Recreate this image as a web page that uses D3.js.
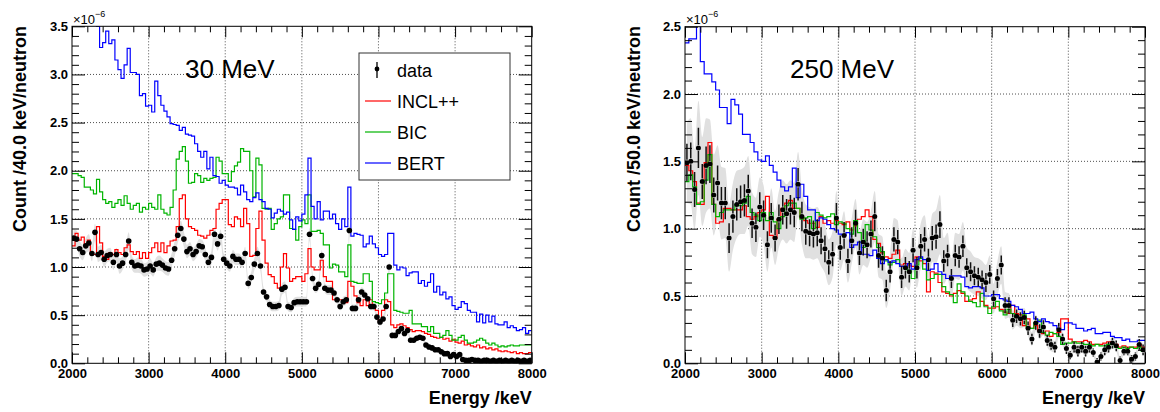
<!DOCTYPE html>
<html>
<head>
<meta charset="utf-8">
<script src="https://cdn.jsdelivr.net/npm/d3@7"></script>
<style>
body { margin: 0; background: #fff; }
svg { display: block; }
text { font-family: "Liberation Sans", Arial, Helvetica, sans-serif; }
</style>
</head>
<body>
<svg id="chart" width="1160" height="412"></svg>
<script>
// ---- 30 MeV, 40 keV bins from 2000 keV (values x1e-6) ----
var dataL = [
  1.3,1.29,1.19,1.15,1.22,1.25,1.14,1.36,1.13,1.15,
  1.08,1.12,1.13,1.05,1.13,1.01,1.04,1.13,1.27,1.05,
  1.01,1.02,1.01,0.97,0.98,1.01,0.97,1.03,1.04,1.02,
  0.99,0.98,1.07,1.19,1.33,1.4,1.29,1.16,1.19,1.13,
  1.16,1.22,1.21,1.13,1.05,1.1,1.34,1.24,1.32,1.08,
  1.04,1.01,1.11,1.08,1.08,1.05,1.14,0.83,0.89,1.03,
  1.14,1.01,0.74,0.69,0.61,0.59,0.59,0.6,0.77,0.79,
  0.59,0.58,0.63,0.64,0.64,0.64,0.64,1.34,0.88,0.78,
  0.82,1.12,0.78,0.76,0.76,0.73,0.66,0.59,0.64,0.66,
  1.38,0.57,0.57,0.66,0.74,0.71,0.67,0.59,0.59,0.48,
  0.43,0.46,0.59,1.0,0.29,0.29,0.33,0.36,0.31,0.34,
  0.24,0.24,0.26,0.27,0.26,0.19,0.17,0.16,0.14,0.14,
  0.12,0.1,0.1,0.07,0.09,0.07,0.09,0.04,0.03,0.03,
  0.04,0.03,0.03,0.02,0.03,0.03,0.02,0.03,0.02,0.03,
  0.02,0.03,0.02,0.03,0.02,0.03,0.02,0.03,0.02,0.03
];
var bandL = [
  .09,.09,.08,.08,.08,.09,.08,.09,.08,.08,
  .08,.07,.07,.08,.07,.08,.07,.08,.09,.07,
  .07,.08,.08,.07,.07,.08,.07,.07,.08,.07,
  .07,.07,.07,.08,.08,.08,.08,.07,.07,.07,
  .07,.07,.07,.07,.06,.07,.08,.07,.07,.06,
  .06,.06,.07,.06,.06,.06,.07,.06,.06,.06,
  .07,.06,.05,.05,.05,.05,.05,.05,.06,.06,
  .05,.05,.05,.05,.05,.05,.05,.07,.05,.05,
  .05,.06,.05,.05,.05,.05,.05,.04,.05,.05,
  .06,.04,.04,.05,.05,.05,.04,.04,.04,.04,
  .04,.04,.04,.05,.03,.03,.03,.03,.03,.03,
  .03,.03,.03,.03,.03,.03,.03,.02,.02,.02,
  .02,.02,.02,.02,.02,.02,.02,.02,.02,.02,
  .02,.02,.02,.02,.02,.02,.02,.02,.02,.02,
  .02,.02,.02,.02,.02,.02,.02,.02,.02,.02
];
var inclL = [
  1.22,1.35,1.28,1.31,1.21,1.28,1.13,1.13,1.42,1.25,
  1.11,1.08,1.15,1.13,1.18,1.15,1.13,1.2,1.23,1.16,
  1.13,1.16,1.09,1.15,1.09,1.15,1.2,1.25,1.16,1.25,
  1.15,1.22,1.27,1.28,1.42,1.71,1.75,1.5,1.42,1.4,
  1.38,1.33,1.32,1.3,1.33,1.38,1.4,1.6,1.66,1.7,
  1.7,1.44,1.42,1.52,1.5,1.42,1.61,1.45,1.11,1.12,
  1.4,1.58,1.28,1.04,0.92,0.9,0.83,0.78,1.0,1.14,
  0.99,0.85,0.88,0.9,0.9,0.85,0.93,1.19,1.0,0.97,
  0.97,1.07,0.9,0.85,0.85,0.66,0.66,0.66,0.63,0.63,
  0.85,0.8,0.7,0.63,0.6,0.66,0.6,0.66,0.6,0.55,
  0.43,0.55,0.66,0.64,0.4,0.37,0.4,0.41,0.39,0.37,
  0.35,0.33,0.34,0.34,0.33,0.31,0.3,0.28,0.27,0.26,
  0.27,0.25,0.26,0.23,0.25,0.22,0.21,0.23,0.19,0.2,
  0.18,0.17,0.19,0.16,0.17,0.15,0.16,0.14,0.15,0.13,
  0.12,0.13,0.12,0.11,0.12,0.1,0.11,0.1,0.1,0.11
];
var bicL = [
  1.97,1.97,1.95,1.93,1.83,1.83,1.8,1.76,1.91,1.78,
  1.7,1.66,1.68,1.62,1.66,1.7,1.64,1.74,1.66,1.6,
  1.64,1.66,1.57,1.62,1.6,1.66,1.62,1.6,1.75,1.6,
  1.56,1.54,1.62,1.8,2.12,2.2,2.25,2.1,1.87,1.88,
  1.97,1.95,1.88,1.92,1.9,1.92,1.93,2.14,2.1,1.97,
  1.97,1.89,1.99,2.05,2.09,2.23,2.2,2.2,2.0,1.73,
  2.13,2.06,1.61,1.6,1.61,1.39,1.45,1.5,1.52,1.75,
  1.75,1.4,1.39,1.28,1.42,1.49,1.45,1.75,1.37,1.37,
  1.38,1.35,1.23,1.23,0.99,1.03,1.02,0.95,0.95,0.9,
  1.23,0.85,0.84,0.83,0.83,0.93,0.93,0.85,0.64,0.63,
  0.62,0.66,0.73,0.93,0.93,0.55,0.54,0.53,0.52,0.52,
  0.55,0.41,0.41,0.41,0.38,0.38,0.33,0.38,0.31,0.31,
  0.27,0.29,0.34,0.29,0.24,0.24,0.27,0.29,0.24,0.21,
  0.21,0.22,0.24,0.26,0.24,0.21,0.19,0.21,0.19,0.17,
  0.18,0.17,0.18,0.19,0.18,0.18,0.19,0.19,0.19,0.19
];
var bertL = [
  4.2,4.1,4.0,3.95,3.9,3.8,3.75,3.6,3.5,3.28,
  3.33,3.45,3.32,3.36,3.15,3.05,2.96,3.1,3.27,3.02,
  3.02,3.0,2.78,2.8,2.67,2.68,2.61,2.93,2.78,2.68,
  2.62,2.56,2.49,2.48,2.47,2.42,2.45,2.38,2.37,2.36,
  2.28,2.2,2.14,2.2,2.02,2.14,1.95,1.94,1.87,1.9,
  1.85,1.83,1.83,1.82,1.75,1.85,1.78,1.7,1.68,1.72,
  1.77,1.7,1.68,1.61,1.6,1.51,1.56,1.6,1.58,1.55,
  1.57,1.49,1.39,1.52,1.48,1.55,1.75,2.13,1.63,1.5,
  1.68,1.49,1.58,1.58,1.5,1.55,1.45,1.39,1.5,1.42,
  1.83,1.32,1.35,1.34,1.33,1.21,1.24,1.32,1.24,1.2,
  1.13,1.11,1.13,1.35,1.35,1.02,0.97,1.0,0.99,0.91,
  0.94,0.95,0.95,0.83,0.86,0.8,0.84,0.93,0.74,0.8,
  0.71,0.74,0.67,0.69,0.6,0.56,0.58,0.64,0.62,0.55,
  0.53,0.53,0.43,0.51,0.42,0.5,0.43,0.49,0.41,0.4,
  0.4,0.43,0.37,0.39,0.37,0.34,0.35,0.37,0.31,0.34
];

// ---- 250 MeV, 50 keV bins from 2000 keV (values x1e-6) ----
var dataR = [
  1.49,1.5,1.29,1.6,1.35,1.47,1.48,1.25,1.34,1.19,
  1.19,0.93,1.09,1.18,1.2,1.21,1.28,1.04,1.01,1.16,
  1.1,0.88,1.08,0.93,1.07,1.14,1.11,1.14,1.12,1.33,
  1.09,0.98,0.97,0.96,0.97,0.91,0.85,0.75,0.81,1.08,
  0.86,0.95,0.76,0.91,1.04,0.82,0.9,0.88,0.96,1.09,
  0.8,0.78,0.54,0.68,0.92,0.9,0.64,0.71,0.68,0.84,
  0.71,0.87,0.92,0.77,0.93,0.94,1.03,0.76,0.8,0.63,
  0.8,0.79,0.87,0.71,0.68,0.65,0.64,0.62,0.6,0.66,
  0.48,0.63,0.73,0.43,0.43,0.32,0.35,0.33,0.34,0.26,
  0.18,0.3,0.24,0.27,0.17,0.14,0.12,0.25,0.18,0.11,
  0.06,0.12,0.09,0.12,0.09,0.12,0.08,0.01,0.05,0.1,
  0.12,0.15,0.13,0.02,0.09,0.09,0.03,0.05,0.14,0.1
];
var statR = [
  .14,.14,.13,.15,.13,.14,.14,.13,.13,.12,
  .12,.11,.12,.12,.12,.12,.12,.11,.11,.11,
  .11,.1,.11,.1,.11,.11,.11,.11,.11,.12,
  .11,.1,.1,.1,.1,.1,.1,.09,.09,.11,
  .09,.1,.09,.1,.1,.09,.1,.1,.1,.11,
  .09,.09,.08,.08,.09,.09,.08,.08,.08,.09,
  .08,.09,.09,.08,.09,.09,.1,.08,.08,.07,
  .08,.08,.08,.07,.07,.07,.07,.07,.07,.07,
  .06,.07,.07,.06,.06,.05,.05,.05,.05,.05,
  .04,.05,.05,.05,.04,.04,.04,.05,.04,.04,
  .03,.04,.04,.04,.04,.04,.03,.03,.03,.04,
  .04,.04,.04,.03,.03,.03,.03,.03,.04,.04
];
var bandR = [
  .3,.32,.3,.35,.33,.35,.33,.3,.28,.27,
  .26,.25,.25,.25,.24,.25,.26,.23,.22,.22,
  .22,.2,.22,.2,.21,.22,.22,.22,.22,.24,
  .21,.2,.19,.19,.19,.19,.18,.17,.17,.2,
  .17,.18,.16,.17,.18,.16,.17,.17,.17,.19,
  .16,.16,.13,.14,.16,.16,.14,.14,.14,.16,
  .15,.17,.18,.16,.18,.2,.22,.17,.17,.15,
  .17,.17,.18,.15,.15,.14,.14,.14,.13,.14,
  .11,.13,.14,.1,.09,.07,.07,.07,.07,.06,
  .05,.06,.06,.06,.05,.05,.04,.06,.05,.04,
  .03,.04,.04,.04,.04,.04,.03,.02,.03,.04,
  .04,.04,.04,.03,.03,.03,.03,.03,.04,.04
];
var inclR = [
  1.47,1.43,1.35,1.19,1.18,1.49,1.64,1.18,1.04,1.05,
  1.15,1.15,1.14,1.14,1.14,1.17,1.09,1.07,1.09,1.12,
  1.14,1.24,0.95,0.93,1.07,1.15,1.19,1.21,1.15,1.15,
  1.08,1.06,1.04,1.04,1.01,1.09,1.04,1.06,1.04,1.06,
  1.04,1.03,1.05,0.99,1.02,1.07,1.09,1.14,1.09,0.92,
  0.89,0.82,0.79,0.78,0.81,0.84,0.73,0.74,0.73,0.72,
  0.79,0.76,0.74,0.53,0.68,0.67,0.6,0.53,0.52,0.5,
  0.52,0.54,0.52,0.46,0.47,0.48,0.53,0.46,0.43,0.41,
  0.41,0.42,0.4,0.38,0.37,0.43,0.37,0.36,0.28,0.33,
  0.26,0.28,0.24,0.22,0.24,0.2,0.22,0.23,0.33,0.33,
  0.18,0.16,0.16,0.16,0.17,0.16,0.14,0.14,0.14,0.15,
  0.16,0.14,0.14,0.12,0.13,0.12,0.12,0.12,0.14,0.12
];
var bicR = [
  1.35,1.4,1.31,1.18,1.2,1.36,1.55,1.18,1.09,1.12,
  1.14,1.14,1.14,1.18,1.17,1.19,1.24,1.12,1.1,1.06,
  1.12,1.06,1.12,1.05,1.0,1.09,1.17,1.19,1.19,1.15,
  1.07,1.08,1.09,1.0,1.12,1.1,1.08,1.09,1.11,1.03,
  1.05,1.04,1.0,0.96,1.06,0.97,0.86,1.03,0.99,0.94,
  0.86,0.83,0.76,0.73,0.75,0.77,0.72,0.71,0.69,0.63,
  0.73,0.78,0.7,0.62,0.63,0.66,0.66,0.57,0.53,0.51,
  0.45,0.59,0.53,0.5,0.46,0.45,0.42,0.52,0.42,0.37,
  0.42,0.46,0.39,0.36,0.4,0.37,0.34,0.33,0.36,0.27,
  0.26,0.3,0.32,0.23,0.21,0.23,0.22,0.2,0.14,0.15,
  0.15,0.16,0.15,0.15,0.14,0.14,0.13,0.14,0.13,0.13,
  0.14,0.14,0.12,0.11,0.12,0.11,0.12,0.11,0.12,0.09
];
var bertR = [
  2.38,2.41,2.41,2.55,2.24,2.15,2.15,2.09,2.03,1.9,
  1.9,1.78,1.96,1.92,1.85,1.7,1.7,1.64,1.57,1.51,
  1.5,1.54,1.47,1.42,1.36,1.31,1.28,1.31,1.45,1.23,
  1.33,1.24,1.14,1.14,1.06,1.08,1.07,1.03,1.0,0.99,
  0.96,0.95,0.97,0.86,0.88,0.9,0.81,0.81,0.8,0.84,
  0.78,0.74,0.77,0.75,0.76,0.74,0.72,0.72,0.74,0.7,
  0.77,0.79,0.77,0.69,0.7,0.74,0.68,0.66,0.63,0.65,
  0.65,0.65,0.64,0.57,0.56,0.57,0.57,0.56,0.5,0.5,
  0.51,0.51,0.48,0.47,0.46,0.43,0.42,0.4,0.37,0.37,
  0.38,0.33,0.31,0.33,0.31,0.3,0.28,0.26,0.25,0.3,
  0.3,0.29,0.26,0.26,0.24,0.25,0.26,0.22,0.22,0.23,
  0.23,0.2,0.19,0.19,0.17,0.18,0.16,0.16,0.17,0.17
];

var models = ["INCL++", "BIC", "BERT"];
var colors = ["#ff0000", "#00b400", "#0000ff"];
var xTicks = [2000, 3000, 4000, 5000, 6000, 7000, 8000];

var svg = d3.select("#chart");
var font = '"Liberation Sans", Arial, Helvetica, sans-serif';

drawPanel({id: "l", x0: 72, x1: 531.7, y0: 26.3, y1: 363.3, ymax: 3.5, bw: 40, r: 2.8,
    data: dataL, band: bandL, stat: null, hists: [inclL, bicL, bertL],
    label: "30 MeV", labelX: 185, ytitle: "Count /40.0 keV/neutron", ytitleX: 26, legend: true});
drawPanel({id: "r", x0: 685, x1: 1145, y0: 26.7, y1: 363.3, ymax: 2.5, bw: 50, r: 2.5,
    data: dataR, band: bandR, stat: statR, hists: [inclR, bicR, bertR],
    label: "250 MeV", labelX: 790, ytitle: "Count /50.0 keV/neutron", ytitleX: 640, legend: false});

function drawPanel(p) {
    var x = d3.scaleLinear().domain([2000, 8000]).range([p.x0, p.x1]);
    var y = d3.scaleLinear().domain([0, p.ymax]).range([p.y1, p.y0]);
    var g = svg.append("g");

    g.append("clipPath").attr("id", "clip" + p.id)
      .append("rect")
      .attr("x", p.x0).attr("y", p.y0)
      .attr("width", p.x1 - p.x0).attr("height", p.y1 - p.y0);

    var yMajor = d3.range(0, p.ymax + 0.001, 0.5);
    var yMinor = d3.range(0, p.ymax + 0.001, 0.1).filter(function(v) {
        return Math.abs(v * 2 - Math.round(v * 2)) > 1e-6;
    });
    var xMinor = d3.range(2000, 8001, 200).filter(function(v) { return v % 1000 != 0; });

    // dotted grid
    g.append("g").selectAll("line")
      .data(xTicks.slice(1, -1))
      .enter().append("line")
      .attr("x1", function(d) { return x(d); }).attr("x2", function(d) { return x(d); })
      .attr("y1", p.y0).attr("y2", p.y1)
      .attr("stroke", "#222").attr("stroke-width", 0.8).attr("stroke-dasharray", "1,2");
    g.append("g").selectAll("line")
      .data(yMajor.slice(1, -1))
      .enter().append("line")
      .attr("x1", p.x0).attr("x2", p.x1)
      .attr("y1", function(d) { return y(d); }).attr("y2", function(d) { return y(d); })
      .attr("stroke", "#222").attr("stroke-width", 0.8).attr("stroke-dasharray", "1,2");

    var plot = g.append("g").attr("clip-path", "url(#clip" + p.id + ")");

    // grey error band
    var center = function(i) { return 2000 + (i + 0.5) * p.bw; };
    var area = d3.area()
      .x(function(d, i) { return x(center(i)); })
      .y0(function(d, i) { return y(Math.max(0, d - p.band[i])); })
      .y1(function(d, i) { return y(d + p.band[i]); })
      .curve(d3.curveMonotoneX);
    plot.append("path").datum(p.data)
      .attr("d", area)
      .attr("fill", "#e0e0e0");

    // model histograms
    var step = d3.line()
      .x(function(d) { return x(d[0]); })
      .y(function(d) { return y(d[1]); })
      .curve(d3.curveStepAfter);
    p.hists.forEach(function(h, k) {
        var pts = h.map(function(v, i) { return [2000 + i * p.bw, v]; });
        pts.push([8000, h[h.length - 1]]);
        plot.append("path").datum(pts)
          .attr("d", step)
          .attr("fill", "none")
          .attr("stroke", colors[k])
          .attr("stroke-width", 1.2);
    });

    // data points
    var pts = plot.append("g").selectAll("g")
      .data(p.data)
      .enter().append("g");
    if (p.stat) {
        pts.append("line")
          .attr("x1", function(d, i) { return x(center(i)); })
          .attr("x2", function(d, i) { return x(center(i)); })
          .attr("y1", function(d, i) { return y(d + p.stat[i]); })
          .attr("y2", function(d) { return y(d) - 3; })
          .attr("stroke", "#111").attr("stroke-width", 1.5);
        pts.append("line")
          .attr("x1", function(d, i) { return x(center(i)); })
          .attr("x2", function(d, i) { return x(center(i)); })
          .attr("y1", function(d) { return y(d) + 3; })
          .attr("y2", function(d, i) { return y(Math.max(0, d - p.stat[i])); })
          .attr("stroke", "#111").attr("stroke-width", 1.5);
    }
    pts.append("circle")
      .attr("cx", function(d, i) { return x(center(i)); })
      .attr("cy", function(d) { return y(d); })
      .attr("r", p.r)
      .attr("fill", "#000");

    // axes, ticks pointing inward
    function clean(a) {
        a.select(".domain").remove();
        a.attr("font-family", font).attr("font-size", 13).attr("font-weight", "bold");
        a.selectAll("line").attr("stroke", "#000");
    }
    g.append("g").attr("transform", "translate(0," + p.y1 + ")")
      .call(d3.axisBottom(x).tickValues(xTicks).tickSize(-11).tickPadding(5).tickFormat(d3.format("d")))
      .call(clean);
    g.append("g").attr("transform", "translate(0," + p.y1 + ")")
      .call(d3.axisBottom(x).tickValues(xMinor).tickSize(-6).tickFormat(""))
      .call(clean);
    g.append("g").attr("transform", "translate(0," + p.y0 + ")")
      .call(d3.axisTop(x).tickValues(xTicks).tickSize(-11).tickFormat(""))
      .call(clean);
    g.append("g").attr("transform", "translate(0," + p.y0 + ")")
      .call(d3.axisTop(x).tickValues(xMinor).tickSize(-6).tickFormat(""))
      .call(clean);
    g.append("g").attr("transform", "translate(" + p.x0 + ",0)")
      .call(d3.axisLeft(y).tickValues(yMajor).tickSize(-13).tickPadding(4).tickFormat(d3.format(".1f")))
      .call(clean);
    g.append("g").attr("transform", "translate(" + p.x0 + ",0)")
      .call(d3.axisLeft(y).tickValues(yMinor).tickSize(-7).tickFormat(""))
      .call(clean);
    g.append("g").attr("transform", "translate(" + p.x1 + ",0)")
      .call(d3.axisRight(y).tickValues(yMajor).tickSize(-13).tickFormat(""))
      .call(clean);
    g.append("g").attr("transform", "translate(" + p.x1 + ",0)")
      .call(d3.axisRight(y).tickValues(yMinor).tickSize(-7).tickFormat(""))
      .call(clean);

    // frame
    g.append("rect")
      .attr("x", p.x0).attr("y", p.y0)
      .attr("width", p.x1 - p.x0).attr("height", p.y1 - p.y0)
      .attr("fill", "none").attr("stroke", "#000").attr("stroke-width", 1);

    // exponent
    var ex = g.append("text").attr("x", p.x0 + 1).attr("y", 24).attr("font-size", 13);
    ex.append("tspan").text("\u00d710");
    ex.append("tspan").attr("dy", -7).attr("font-size", 9).text("\u22126");

    // titles
    g.append("text")
      .attr("x", p.x1).attr("y", 404)
      .attr("text-anchor", "end")
      .attr("font-size", 18).attr("font-weight", "bold")
      .text("Energy /keV");
    g.append("text")
      .attr("transform", "translate(" + p.ytitleX + "," + 26 + ") rotate(-90)")
      .attr("text-anchor", "end")
      .attr("font-size", 18).attr("font-weight", "bold")
      .text(p.ytitle);
    g.append("text")
      .attr("x", p.labelX).attr("y", 78)
      .attr("font-size", 26)
      .text(p.label);

    if (p.legend) drawLegend(g);
}

function drawLegend(g) {
    var lx = 359, ly = 53;
    g.append("rect")
      .attr("x", lx).attr("y", ly).attr("width", 151).attr("height", 127)
      .attr("fill", "#fff").attr("stroke", "#333").attr("stroke-width", 1);
    var rows = ["data"].concat(models);
    var row = g.selectAll("g.leg")
      .data(rows)
      .enter().append("g")
      .attr("class", "leg")
      .attr("transform", function(d, i) { return "translate(0," + (ly + 24 + i * 31) + ")"; });
    row.append("text")
      .attr("x", lx + 38).attr("y", 0)
      .attr("font-size", 18)
      .text(function(d) { return d; });
    row.filter(function(d, i) { return i > 0; })
      .append("line")
      .attr("x1", lx + 6).attr("x2", lx + 32)
      .attr("y1", -7).attr("y2", -7)
      .attr("stroke", function(d, i) { return colors[i]; })
      .attr("stroke-width", 1.2);
    var dsym = row.filter(function(d, i) { return i == 0; });
    dsym.append("line")
      .attr("x1", lx + 18).attr("x2", lx + 18)
      .attr("y1", -15).attr("y2", 1)
      .attr("stroke", "#111").attr("stroke-width", 1.4);
    dsym.append("circle")
      .attr("cx", lx + 18).attr("cy", -8).attr("r", 2.4).attr("fill", "#000");
}
</script>
</body>
</html>
